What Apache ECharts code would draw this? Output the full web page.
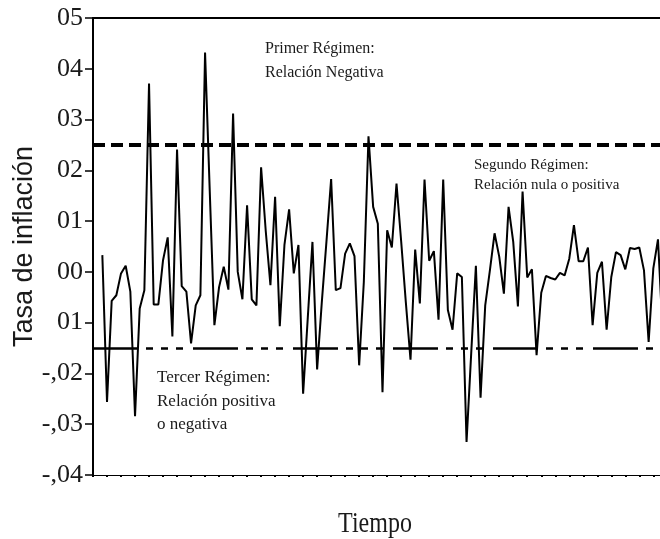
<!DOCTYPE html>
<html>
<head>
<meta charset="utf-8">
<title>Tasa de inflación</title>
<script src="https://cdn.jsdelivr.net/npm/echarts@6/dist/echarts.min.js"></script>
<style>
    html, body { margin: 0; padding: 0; background: #ffffff; }
    #myChart { width: 660px; height: 539px; }
</style>
</head>
<body>
<div id="myChart"></div>
<script>
// tasa de inflacion, una observacion por periodo
const inflacion = [
    0.0033, -0.0256, -0.0057, -0.0046, -0.0003, 0.0012, -0.0039, -0.0284, -0.0072, -0.0036,
    0.0371, -0.0064, -0.0064, 0.0023, 0.0068, -0.0127, 0.0241, -0.0028, -0.0039, -0.0141,
    -0.0066, -0.0046, 0.0432, 0.016, -0.0105, -0.003, 0.001, -0.0035, 0.0312, 0.0,
    -0.0054, 0.0131, -0.0054, -0.0066, 0.0206, 0.008, -0.0026, 0.0148, -0.0107, 0.0053,
    0.0123, -0.0003, 0.0053, -0.024, -0.009, 0.0059, -0.0192, -0.006, 0.006, 0.0183,
    -0.0036, -0.0032, 0.0036, 0.0056, 0.0031, -0.0184, -0.002, 0.0267, 0.0128, 0.0095,
    -0.0237, 0.0082, 0.0048, 0.0174, 0.006, -0.006, -0.0173, 0.0044, -0.0062, 0.0182,
    0.0022, 0.0041, -0.0094, 0.0182, -0.0075, -0.0114, -0.0003, -0.001, -0.0335, -0.016,
    0.0012, -0.0248, -0.0066, 0.0003, 0.0076, 0.003, -0.0043, 0.0128, 0.0059, -0.0068,
    0.0158, -0.0011, 0.0005, -0.0164, -0.0041, -0.0008, -0.0012, -0.0015, -0.0002, -0.0007,
    0.0026, 0.0092, 0.0021, 0.0021, 0.0048, -0.0105, -0.0002, 0.002, -0.0114, -0.001,
    0.0039, 0.0033, 0.0005, 0.0047, 0.0045, 0.0048, 0.0003, -0.0138, 0.0007, 0.0064,
    -0.012
];

// umbrales entre regimenes
const umbralSuperior = 0.025;
const umbralInferior = -0.015;

// etiquetas del eje y, de abajo hacia arriba (como en el original)
const etiquetasY = ['-,04', '-,03', '-,02', '01', '00', '01', '02', '03', '04', '05'];
const yMin = -0.04;
const yMax = 0.05;
const yPaso = 0.01;

const notaPrimer = ['Primer Régimen:', 'Relación Negativa'];
const notaSegundo = ['Segundo Régimen:', 'Relación nula o positiva'];
const notaTercer = ['Tercer Régimen:', 'Relación positiva', 'o negativa'];

const serif = '"Liberation Serif", "Times New Roman", serif';
const sans = '"Liberation Sans", Arial, sans-serif';
const textColor = '#1a1a1a';

// el eje x arranca dos periodos antes del primer dato
const seriesData = inflacion.map((v, i) => [i + 2, v]);

function nota(lineas, x, y, size, lh) {
    return lineas.map((t, k) => ({
        type: 'text',
        x: x,
        y: y + k * lh,
        silent: true,
        style: {
            text: t,
            fill: textColor,
            font: size + 'px ' + serif,
            textAlign: 'left',
            textVerticalAlign: 'middle'
        }
    }));
}

const eChart = echarts.init(document.getElementById('myChart'), null, { renderer: 'canvas' });

let ChartOption = {
    animation: false,
    backgroundColor: '#ffffff',
    grid: {
        left: 93,
        top: 18,
        width: 593,          // sigue mas alla del borde derecho, como en el recorte
        height: 457,
        containLabel: false,
        outerBoundsMode: 'none'
    },
    xAxis: [{
        type: 'value',
        min: 0,
        max: 127,
        interval: 3,
        position: 'bottom',
        axisLine: { show: true, onZero: false, lineStyle: { color: '#000', width: 1 } },
        axisTick: { show: true, inside: false, length: 2, lineStyle: { color: '#000', width: 2 } },
        axisLabel: { show: false },
        splitLine: { show: false }
    }, {
        // linea superior del marco
        type: 'value',
        min: 0,
        max: 127,
        position: 'top',
        axisLine: { show: true, onZero: false, lineStyle: { color: '#000', width: 2 } },
        axisTick: { show: false },
        axisLabel: { show: false },
        splitLine: { show: false }
    }],
    yAxis: {
        type: 'value',
        min: yMin,
        max: yMax,
        interval: yPaso,
        name: 'Tasa de inflación',
        nameLocation: 'middle',
        nameRotate: 90,
        nameGap: 55,
        nameMoveOverlap: false,
        nameTextStyle: { fontFamily: sans, fontSize: 27, color: textColor },
        axisLine: { show: true, onZero: false, lineStyle: { color: '#000', width: 2 } },
        axisTick: { show: true, length: 8, lineStyle: { color: '#000', width: 1.5 } },
        axisLabel: {
            margin: 10,
            fontFamily: serif,
            fontSize: 26,
            color: textColor,
            formatter: function (v) {
                return etiquetasY[Math.round((v - yMin) / yPaso)] || '';
            }
        },
        splitLine: { show: false }
    },
    series: [{
        type: 'line',
        data: seriesData,
        symbol: 'none',
        lineStyle: { color: '#000', width: 2 },
        markLine: {
            silent: true,
            precision: 4,
            symbol: ['none', 'none'],
            label: { show: false },
            data: [
                { yAxis: umbralSuperior, lineStyle: { color: '#000', width: 4, type: [12, 6] } },
                { yAxis: umbralInferior, lineStyle: { color: '#000', width: 2.5, type: [45, 8, 7, 8, 7, 8, 7, 10] } }
            ]
        }
    }],
    graphic: [
        ...nota(notaPrimer, 265, 49, 16, 24),
        ...nota(notaSegundo, 474, 165, 15, 20),
        ...nota(notaTercer, 157, 378, 17, 23.5),
        {
            type: 'text',
            x: 375,
            y: 524,
            scaleX: 0.8,
            silent: true,
            style: {
                text: 'Tiempo',
                fill: textColor,
                font: '30px ' + serif,
                textAlign: 'center',
                textVerticalAlign: 'middle'
            }
        }
    ]
};

eChart.setOption(ChartOption, true);
window.addEventListener('resize', () => { eChart.resize() });
</script>
</body>
</html>
